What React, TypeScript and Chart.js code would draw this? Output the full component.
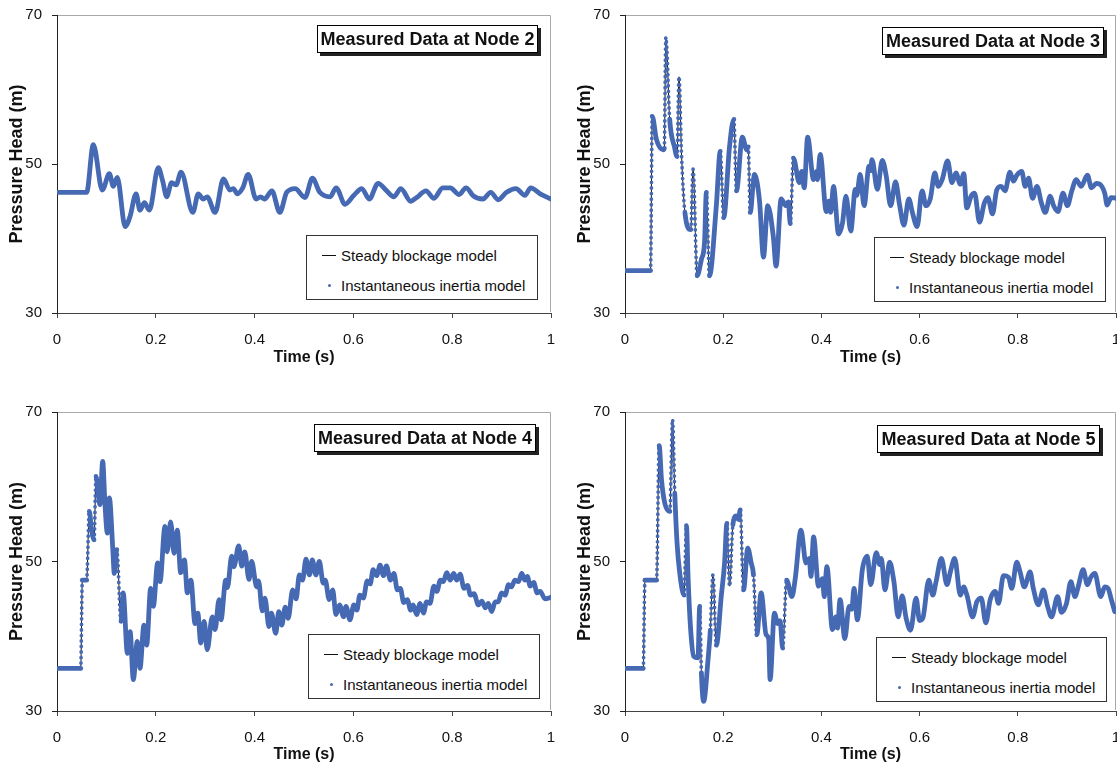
import React, { useEffect, useRef } from "react";
import { Chart, registerables } from "chart.js";

Chart.register(...registerables);

// ---------- data (time in s, pressure head in m) ----------
const node2Time = [0, 0.06, 0.0735, 0.0917, 0.106, 0.114, 0.122, 0.138, 0.148, 0.16, 0.168, 0.177, 0.187, 0.205, 0.214, 0.222, 0.232, 0.241, 0.251, 0.275, 0.286, 0.296, 0.304, 0.32, 0.337, 0.35, 0.357, 0.365, 0.376, 0.387, 0.403, 0.412, 0.42, 0.435, 0.451, 0.465, 0.482, 0.502, 0.517, 0.532, 0.553, 0.565, 0.583, 0.601, 0.617, 0.632, 0.65, 0.666, 0.682, 0.696, 0.716, 0.728, 0.747, 0.763, 0.781, 0.796, 0.814, 0.828, 0.843, 0.862, 0.878, 0.893, 0.91, 0.929, 0.947, 0.959, 0.978, 1.0];
const node2Head = [46.2, 46.2, 52.6, 46.5, 48.7, 47.0, 48.2, 41.6, 43.0, 46.0, 43.8, 44.8, 43.8, 49.5, 47.7, 45.6, 47.5, 47.2, 48.9, 43.5, 46.0, 45.3, 45.6, 43.5, 48.0, 46.5, 46.7, 46.0, 46.8, 48.6, 45.3, 45.6, 45.3, 46.4, 43.5, 46.2, 46.7, 45.5, 48.1, 46.2, 45.6, 46.8, 44.6, 45.8, 46.7, 45.3, 47.4, 46.5, 45.6, 46.7, 45.0, 45.5, 46.4, 45.4, 46.8, 46.8, 45.9, 46.8, 45.7, 45.3, 46.2, 45.2, 46.2, 46.7, 45.8, 46.8, 46.0, 45.3];

const node3Time = [0, 0.052, 0.0555, 0.064, 0.078, 0.08, 0.0832, 0.091, 0.101, 0.106, 0.11, 0.115, 0.122, 0.134, 0.1386, 0.147, 0.1556, 0.162, 0.1657, 0.172, 0.186, 0.194, 0.201, 0.213, 0.2217, 0.227, 0.239, 0.248, 0.251, 0.255, 0.2637, 0.274, 0.282, 0.2907, 0.302, 0.3077, 0.318, 0.328, 0.3325, 0.3367, 0.343, 0.355, 0.36, 0.365, 0.372, 0.384, 0.39, 0.392, 0.3976, 0.41, 0.415, 0.419, 0.4246, 0.435, 0.443, 0.45, 0.4598, 0.469, 0.472, 0.479, 0.487, 0.497, 0.5, 0.503, 0.514, 0.524, 0.532, 0.541, 0.551, 0.559, 0.568, 0.578, 0.586, 0.595, 0.605, 0.613, 0.622, 0.631, 0.638, 0.646, 0.657, 0.666, 0.674, 0.683, 0.69, 0.696, 0.705, 0.712, 0.722, 0.732, 0.739, 0.7485, 0.757, 0.766, 0.774, 0.784, 0.791, 0.798, 0.808, 0.815, 0.822, 0.83, 0.839, 0.848, 0.856, 0.866, 0.873, 0.882, 0.892, 0.901, 0.91, 0.919, 0.929, 0.9418, 0.95, 0.96, 0.97, 0.977, 0.982, 0.99, 1.0];
const node3Head = [35.7, 35.7, 56.4, 53.3, 51.9, 52.1, 67.0, 56.0, 52.2, 51.0, 61.7, 51.5, 43.5, 41.2, 49.3, 35.0, 37.2, 39.5, 46.2, 35.0, 44.4, 51.7, 42.8, 52.4, 56.0, 46.4, 53.6, 51.9, 52.3, 43.5, 48.6, 45.0, 37.5, 44.4, 40.3, 36.3, 45.3, 44.4, 44.9, 42.0, 50.8, 47.5, 49.0, 46.8, 53.6, 47.9, 49.0, 47.9, 51.3, 43.6, 45.0, 43.5, 47.0, 40.6, 42.1, 45.7, 41.0, 46.6, 45.8, 48.6, 44.4, 49.7, 49.1, 50.6, 46.6, 50.5, 48.4, 44.4, 47.6, 44.6, 41.8, 45.3, 43.3, 41.6, 46.4, 44.4, 45.4, 48.8, 47.0, 47.9, 50.4, 47.5, 48.8, 47.3, 48.7, 44.1, 45.7, 46.1, 42.2, 44.8, 45.5, 43.3, 46.5, 47.0, 46.4, 48.9, 47.7, 48.5, 49.0, 47.0, 48.1, 45.4, 47.0, 44.8, 43.5, 45.7, 44.4, 43.6, 46.1, 44.4, 46.4, 47.9, 47.0, 48.5, 46.8, 47.4, 47.1, 46.1, 44.5, 45.5, 45.4];

const node4Time = [0, 0.048, 0.0513, 0.06, 0.0654, 0.07, 0.075, 0.079, 0.084, 0.087, 0.0925, 0.097, 0.102, 0.106, 0.113, 0.116, 0.121, 0.1296, 0.134, 0.1425, 0.148, 0.1545, 0.1626, 0.168, 0.176, 0.1815, 0.1896, 0.195, 0.2038, 0.2085, 0.2186, 0.223, 0.23, 0.237, 0.2435, 0.2504, 0.258, 0.2638, 0.271, 0.2794, 0.285, 0.291, 0.298, 0.304, 0.3144, 0.32, 0.328, 0.332, 0.3415, 0.345, 0.3536, 0.358, 0.3678, 0.374, 0.38, 0.3887, 0.394, 0.4042, 0.408, 0.4156, 0.421, 0.429, 0.434, 0.4427, 0.449, 0.455, 0.462, 0.468, 0.477, 0.484, 0.4906, 0.497, 0.504, 0.511, 0.5168, 0.524, 0.531, 0.539, 0.543, 0.551, 0.558, 0.5648, 0.572, 0.58, 0.585, 0.593, 0.601, 0.607, 0.613, 0.62, 0.628, 0.634, 0.64, 0.647, 0.654, 0.661, 0.667, 0.675, 0.682, 0.689, 0.695, 0.702, 0.709, 0.716, 0.721, 0.728, 0.735, 0.742, 0.748, 0.755, 0.763, 0.769, 0.776, 0.782, 0.789, 0.796, 0.803, 0.809, 0.816, 0.824, 0.831, 0.837, 0.844, 0.853, 0.86, 0.867, 0.873, 0.88, 0.887, 0.893, 0.9, 0.907, 0.914, 0.92, 0.927, 0.934, 0.9407, 0.947, 0.952, 0.958, 0.965, 0.972, 0.978, 0.988, 1.0];
const node4Head = [35.7, 35.7, 47.5, 47.5, 56.7, 54.2, 52.9, 61.4, 58.7, 57.6, 63.4, 57.8, 53.8, 58.5, 51.6, 48.4, 51.6, 42.0, 45.8, 37.7, 40.6, 34.2, 39.3, 35.7, 41.5, 38.8, 46.4, 44.0, 49.8, 47.3, 54.7, 51.3, 55.3, 51.1, 54.2, 48.5, 50.2, 45.8, 47.5, 41.7, 43.1, 39.1, 42.0, 38.2, 42.6, 40.9, 44.9, 42.2, 47.5, 46.5, 50.7, 49.3, 52.1, 49.4, 51.3, 47.6, 50.0, 46.6, 47.4, 43.4, 45.1, 41.3, 43.1, 40.4, 43.3, 41.5, 43.9, 42.4, 46.2, 45.0, 48.2, 47.5, 50.3, 48.2, 50.2, 48.2, 50.0, 47.1, 47.5, 44.9, 46.2, 42.9, 44.2, 42.6, 44.0, 42.2, 44.2, 43.5, 45.5, 45.1, 47.4, 47.0, 48.9, 48.1, 49.5, 48.1, 49.4, 47.5, 48.4, 46.2, 46.4, 44.5, 44.9, 43.5, 44.2, 42.9, 44.4, 43.1, 44.6, 44.4, 46.7, 46.0, 47.5, 47.3, 48.5, 47.5, 48.4, 47.5, 48.3, 46.4, 46.8, 45.5, 45.7, 44.2, 44.7, 43.8, 44.4, 43.3, 44.6, 44.6, 45.8, 45.5, 46.9, 46.6, 47.5, 47.3, 48.4, 47.5, 48.0, 46.7, 47.2, 45.8, 46.0, 45.0, 45.2];

const node5Time = [0, 0.0371, 0.0406, 0.0643, 0.0696, 0.0744, 0.0811, 0.0913, 0.0968, 0.1014, 0.1061, 0.1116, 0.1203, 0.1252, 0.1284, 0.1333, 0.14, 0.1487, 0.1521, 0.1556, 0.1602, 0.169, 0.1738, 0.1791, 0.186, 0.196, 0.2028, 0.2075, 0.213, 0.2197, 0.2266, 0.2312, 0.2347, 0.2414, 0.2501, 0.257, 0.2617, 0.2684, 0.2773, 0.2874, 0.2927, 0.2955, 0.3043, 0.311, 0.3158, 0.3211, 0.3292, 0.34, 0.3469, 0.3584, 0.3686, 0.3753, 0.3787, 0.384, 0.3941, 0.4023, 0.4057, 0.4112, 0.4225, 0.4294, 0.4327, 0.4381, 0.4477, 0.4564, 0.4618, 0.4665, 0.4732, 0.4834, 0.4935, 0.5004, 0.5118, 0.5186, 0.522, 0.5294, 0.539, 0.5477, 0.5564, 0.5645, 0.5726, 0.5815, 0.5929, 0.5998, 0.6065, 0.6187, 0.6268, 0.6335, 0.6444, 0.6558, 0.6626, 0.6714, 0.683, 0.6897, 0.6964, 0.7079, 0.7166, 0.7255, 0.7349, 0.7438, 0.754, 0.7606, 0.7708, 0.781, 0.7877, 0.7978, 0.8047, 0.8134, 0.825, 0.8316, 0.8418, 0.852, 0.8607, 0.8688, 0.881, 0.8891, 0.8992, 0.9081, 0.9162, 0.9229, 0.9331, 0.9418, 0.9487, 0.9568, 0.969, 0.977, 0.9838, 0.9905, 0.9974];
const node5Head = [35.7, 35.7, 47.5, 47.5, 65.5, 60.9, 57.8, 56.7, 69.0, 59.1, 52.4, 48.4, 45.5, 54.8, 48.0, 41.3, 37.3, 37.1, 44.0, 35.1, 31.3, 36.8, 40.8, 48.2, 38.8, 45.3, 49.8, 55.1, 46.7, 54.9, 56.1, 55.6, 56.9, 46.2, 51.8, 49.8, 48.2, 40.2, 45.8, 40.2, 39.6, 34.2, 43.1, 41.7, 42.1, 38.4, 47.5, 45.3, 47.8, 54.2, 49.8, 50.4, 48.0, 53.3, 46.7, 47.7, 45.3, 49.3, 40.9, 42.6, 41.1, 44.9, 39.7, 44.0, 43.6, 46.4, 42.2, 48.9, 50.7, 46.9, 51.2, 49.6, 50.4, 46.2, 49.9, 47.3, 42.6, 45.4, 42.4, 40.8, 45.1, 42.1, 42.4, 47.5, 45.5, 47.3, 50.4, 46.9, 48.6, 50.4, 45.5, 46.6, 45.5, 42.6, 44.6, 45.1, 41.8, 44.9, 46.0, 44.4, 48.1, 47.9, 46.4, 49.9, 48.6, 46.6, 48.6, 46.4, 44.2, 46.2, 44.0, 42.6, 45.3, 43.2, 44.4, 47.3, 45.3, 46.6, 48.9, 46.9, 47.9, 48.4, 45.3, 46.6, 46.4, 44.9, 43.3];

const panelTitles = ["Measured Data at Node 2", "Measured Data at Node 3", "Measured Data at Node 4", "Measured Data at Node 5"];
const seriesNames = ["Steady blockage model", "Instantaneous inertia model"];
const xTicks = [0, 0.2, 0.4, 0.6, 0.8, 1];
const yTicks = [30, 50, 70];
const xTitle = "Time (s)";
const yTitle = "Pressure Head (m)";

// ---------- styling ----------
const FONT = "'Liberation Sans', Arial, Helvetica, sans-serif";
const BLUE = "#4669b4";

type Box = { x: number; y: number; w: number; h: number };
type Panel = {
  title: string;
  time: number[];
  head: number[];
  left: number;
  top: number;
  width: number;
  height: number;
  areaLeft: number;
  areaTop: number;
  areaRight: number;
  areaBottom: number;
  yTitleX: number;
  xTitleY: number;
  titleBox: Box;
  legendBox: Box;
};

const panels: Panel[] = [
  { title: panelTitles[0], time: node2Time, head: node2Head, left: 0, top: 0, width: 558, height: 380, areaLeft: 57, areaTop: 15, areaRight: 551, areaBottom: 313, yTitleX: 17, xTitleY: 358, titleBox: { x: 317, y: 25, w: 221, h: 28 }, legendBox: { x: 306, y: 235, w: 232, h: 65 } },
  { title: panelTitles[1], time: node3Time, head: node3Head, left: 558, top: 0, width: 559, height: 380, areaLeft: 625, areaTop: 15, areaRight: 1116, areaBottom: 313, yTitleX: 585, xTitleY: 358, titleBox: { x: 882, y: 27, w: 222, h: 28 }, legendBox: { x: 874, y: 237, w: 232, h: 65 } },
  { title: panelTitles[2], time: node4Time, head: node4Head, left: 0, top: 380, width: 558, height: 389, areaLeft: 57, areaTop: 412, areaRight: 551, areaBottom: 711, yTitleX: 17, xTitleY: 755, titleBox: { x: 314, y: 424, w: 222, h: 28 }, legendBox: { x: 308, y: 634, w: 232, h: 65 } },
  { title: panelTitles[3], time: node5Time, head: node5Head, left: 558, top: 380, width: 559, height: 389, areaLeft: 625, areaTop: 412, areaRight: 1116, areaBottom: 711, yTitleX: 585, xTitleY: 755, titleBox: { x: 877, y: 425, w: 223, h: 28 }, legendBox: { x: 876, y: 637, w: 231, h: 65 } },
];

const framePlugin = {
  id: "plotFrame",
  beforeDatasetsDraw(chart: any) {
    const { ctx, chartArea: a } = chart;
    ctx.save();
    ctx.strokeStyle = "#a8a8a8";
    ctx.lineWidth = 1;
    const t = Math.round(a.top) + 0.5;
    const r = Math.round(a.right) - 0.5;
    ctx.beginPath();
    ctx.moveTo(a.left + 1, t);
    ctx.lineTo(r, t);
    ctx.lineTo(r, a.bottom - 1);
    ctx.stroke();
    ctx.restore();
  },
};

function steep(ctx: any) {
  const dy = Math.abs(ctx.p1.y - ctx.p0.y);
  const dx = Math.abs(ctx.p1.x - ctx.p0.x);
  return dy > 55 && dy > 16 * dx;
}

function PanelChart({ p }: { p: Panel }) {
  const ref = useRef<HTMLCanvasElement | null>(null);
  useEffect(() => {
    if (!ref.current) return;
    const pts = p.time.map((t, i) => ({ x: t, y: p.head[i] }));
    const yWidth = p.areaLeft - p.left;
    const xHeight = p.top + p.height - p.areaBottom;
    const xTitleOffset = p.top + p.height - p.xTitleY;
    const yTitleOffset = p.yTitleX - p.left;
    const chart = new Chart(ref.current, {
      type: "line",
      data: {
        datasets: [
          {
            label: seriesNames[1],
            data: pts,
            borderColor: BLUE,
            backgroundColor: BLUE,
            borderWidth: 4.8,
            pointRadius: 0,
            borderCapStyle: "round",
            borderJoinStyle: "round",
            cubicInterpolationMode: "monotone",
            order: 0,
            segment: {
              borderDash: (c: any) => (steep(c) ? [0, 5.5] : undefined),
              borderWidth: (c: any) => (steep(c) ? 3.8 : undefined),
            },
          } as any,
          {
            label: seriesNames[0],
            data: pts,
            borderColor: "#111",
            backgroundColor: "#111",
            borderWidth: 1,
            pointRadius: 0,
            cubicInterpolationMode: "monotone",
            order: 1,
          },
        ],
      },
      options: {
        responsive: false,
        animation: false,
        events: [],
        layout: { padding: { left: 0, top: p.areaTop - p.top, right: p.left + p.width - p.areaRight, bottom: 0 } },
        plugins: { legend: { display: false }, tooltip: { enabled: false }, title: { display: false } },
        scales: {
          x: {
            type: "linear",
            min: 0,
            max: 1,
            afterBuildTicks: (s: any) => {
              s.ticks = xTicks.map((v) => ({ value: v }));
            },
            ticks: {
              font: { family: FONT, size: 15 },
              color: "#111",
              padding: 13,
              maxRotation: 0,
              autoSkip: false,
              callback: (v: any) => String(Math.round(Number(v) * 10) / 10),
            },
            grid: { drawOnChartArea: false, drawTicks: true, tickLength: 5, color: "#444" },
            border: { color: "#444", width: 1 },
            title: {
              display: true,
              text: xTitle,
              color: "#111",
              font: { family: FONT, size: 16, weight: "bold" },
              padding: { top: 0, bottom: xTitleOffset - 9.6 },
            },
            afterFit: (s: any) => {
              s.height = xHeight;
              s.paddingLeft = 0;
              s.paddingRight = 0;
            },
          },
          y: {
            type: "linear",
            min: 30,
            max: 70,
            afterBuildTicks: (s: any) => {
              s.ticks = yTicks.map((v) => ({ value: v }));
            },
            ticks: { font: { family: FONT, size: 15 }, color: "#111", padding: 10 },
            grid: { drawOnChartArea: false, drawTicks: true, tickLength: 5, color: "#222" },
            border: { color: "#222", width: 1 },
            title: {
              display: true,
              text: yTitle,
              color: "#111",
              font: { family: FONT, size: 18, weight: "bold" },
              padding: { top: yTitleOffset - 10.8, bottom: 0 },
            },
            afterFit: (s: any) => {
              s.width = yWidth;
              s.paddingTop = 0;
              s.paddingBottom = 0;
            },
          },
        },
      },
      plugins: [framePlugin],
    } as any);
    return () => chart.destroy();
  }, [p]);
  return (
    <canvas
      ref={ref}
      width={p.width}
      height={p.height}
      style={{ position: "absolute", left: p.left, top: p.top, width: p.width, height: p.height }}
    />
  );
}

function TitleBox({ text, b }: { text: string; b: Box }) {
  return (
    <div
      style={{
        position: "absolute",
        left: b.x,
        top: b.y,
        width: b.w,
        height: b.h,
        boxSizing: "border-box",
        border: "1px solid #000",
        background: "#fff",
        boxShadow: "3px 3px 0 #222",
        display: "flex",
        alignItems: "center",
        justifyContent: "center",
        fontFamily: FONT,
        fontWeight: "bold",
        fontSize: 18,
        color: "#111",
        whiteSpace: "nowrap",
      }}
    >
      {text}
    </div>
  );
}

function LegendBox({ b }: { b: Box }) {
  const row: React.CSSProperties = {
    position: "absolute",
    left: 34,
    height: 18,
    lineHeight: "18px",
    fontFamily: FONT,
    fontSize: 15,
    color: "#111",
    whiteSpace: "nowrap",
  };
  return (
    <div
      style={{
        position: "absolute",
        left: b.x,
        top: b.y,
        width: b.w,
        height: b.h,
        boxSizing: "border-box",
        border: "1px solid #333",
        background: "#fff",
      }}
    >
      <div style={{ position: "absolute", left: 15, top: 19, width: 14, height: 1, background: "#111" }} />
      <div style={{ ...row, top: 11 }}>{seriesNames[0]}</div>
      <div style={{ position: "absolute", left: 21, top: 48, width: 3, height: 3, borderRadius: 2, background: BLUE }} />
      <div style={{ ...row, top: 41 }}>{seriesNames[1]}</div>
    </div>
  );
}

export default function App() {
  useEffect(() => {
    document.body.style.margin = "0";
    document.body.style.background = "#fff";
  }, []);
  return (
    <div style={{ position: "relative", width: 1117, height: 769, overflow: "hidden", background: "#fff" }}>
      {panels.map((p, i) => (
        <PanelChart key={"c" + i} p={p} />
      ))}
      {panels.map((p, i) => (
        <TitleBox key={"t" + i} text={p.title} b={p.titleBox} />
      ))}
      {panels.map((p, i) => (
        <LegendBox key={"l" + i} b={p.legendBox} />
      ))}
    </div>
  );
}
